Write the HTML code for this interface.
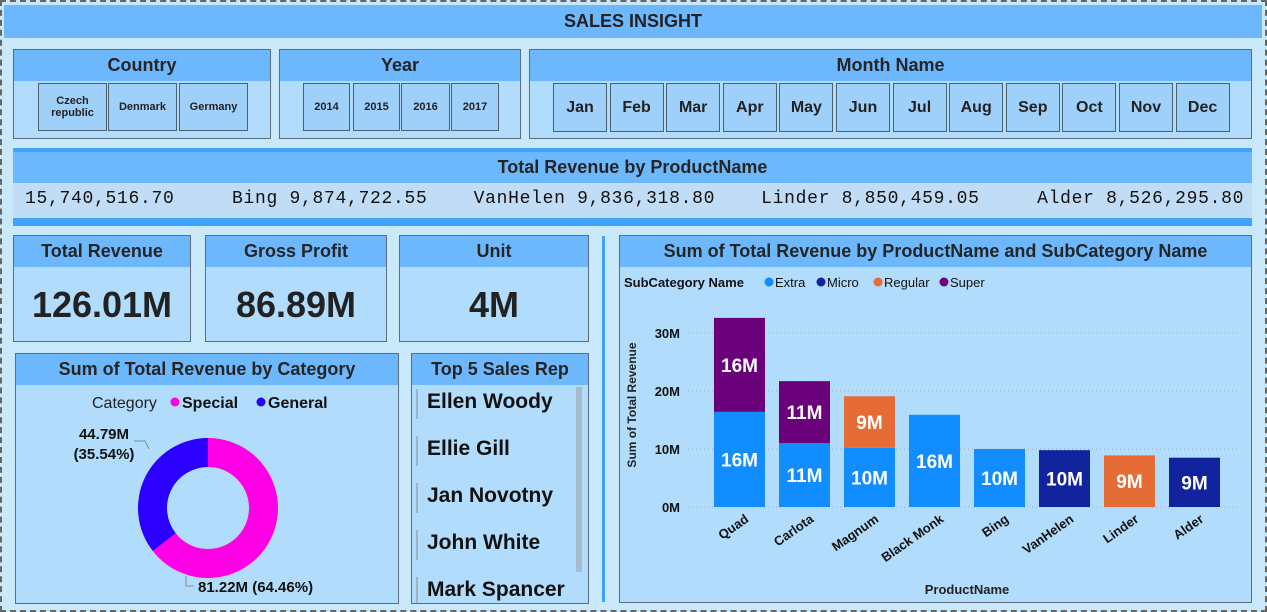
<!DOCTYPE html>
<html><head><meta charset="utf-8"><style>
*{box-sizing:border-box;margin:0;padding:0}
body{width:1267px;height:612px;background:#c9e8fa;font-family:"Liberation Sans",sans-serif;position:relative;overflow:hidden;color:#222}
.abs{position:absolute}
.panel{position:absolute;background:#b2dcfb;border:1px solid #5a6e80}
.hdr{position:absolute;left:0;right:0;top:0;height:31px;background:#6db8fc;text-align:center;font-weight:bold;font-size:18px;line-height:31px;color:#252525}
.btn{position:absolute;background:#9fd0fa;border:1px solid #4d6070;text-align:center;font-size:11px;font-weight:bold;display:flex;align-items:center;justify-content:center;color:#222}
.mbtn{font-size:16px}
.kpi{font-size:36px;font-weight:bold;text-align:center;position:absolute;left:0;right:0;top:48px;color:#222}
.rep{position:absolute;left:15px;font-size:21px;font-weight:bold;color:#111}
.repbar{position:absolute;left:4px;width:2px;height:30px;background:#9db4c4}
</style></head><body>
<div class="abs" style="left:0;top:0;width:1267px;height:612px;border:2px dashed #666"></div>
<div class="abs" style="left:4px;top:5px;width:1258px;height:33px;background:#6db8fc;text-align:center;font-weight:bold;font-size:18px;line-height:33px">SALES INSIGHT</div>

<div class="panel" style="left:13px;top:49px;width:258px;height:90px">
<div class="hdr">Country</div>
<div class="btn" style="left:24px;top:33px;width:69px;height:48px">Czech<br>republic</div>
<div class="btn" style="left:94px;top:33px;width:69px;height:48px">Denmark</div>
<div class="btn" style="left:165px;top:33px;width:69px;height:48px">Germany</div>
</div>

<div class="panel" style="left:279px;top:49px;width:242px;height:90px">
<div class="hdr">Year</div>
<div class="btn" style="left:23px;top:33px;width:47px;height:48px">2014</div>
<div class="btn" style="left:73px;top:33px;width:47px;height:48px">2015</div>
<div class="btn" style="left:121px;top:33px;width:49px;height:48px">2016</div>
<div class="btn" style="left:171px;top:33px;width:48px;height:48px">2017</div>
</div>

<div class="panel" style="left:529px;top:49px;width:723px;height:90px">
<div class="hdr">Month Name</div>
<div id="months"></div>
</div>

<div class="panel" style="left:13px;top:148px;width:1239px;height:78px;border:none;background:#c0ddf5">
<div class="abs" style="left:0;right:0;top:0;height:5px;background:#3fa3fc"></div>
<div class="hdr" style="top:4px">Total Revenue by ProductName</div>
<div class="abs" style="left:12px;top:41px;font-family:'Liberation Mono',monospace;font-size:18px;letter-spacing:0.7px;white-space:pre;color:#111">15,740,516.70     Bing 9,874,722.55    VanHelen 9,836,318.80    Linder 8,850,459.05     Alder 8,526,295.80</div>
<div class="abs" style="left:0;right:0;top:70px;height:8px;background:#3fa3fc"></div>
</div>

<div class="panel" style="left:13px;top:235px;width:178px;height:107px">
<div class="hdr">Total Revenue</div><div class="kpi">126.01M</div></div>
<div class="panel" style="left:205px;top:235px;width:182px;height:107px">
<div class="hdr">Gross Profit</div><div class="kpi">86.89M</div></div>
<div class="panel" style="left:399px;top:235px;width:190px;height:107px">
<div class="hdr">Unit</div><div class="kpi">4M</div></div>

<div class="panel" style="left:15px;top:353px;width:384px;height:251px">
<div class="hdr">Sum of Total Revenue by Category</div>
<svg class="abs" style="left:0;top:0" width="384" height="251" id="donut"></svg>
</div>

<div class="panel" style="left:411px;top:353px;width:178px;height:251px;overflow:hidden">
<div class="hdr">Top 5 Sales Rep</div>
<div class="abs" style="left:164px;top:33px;width:6px;height:185px;background:#a6bccc"></div>
<div class="repbar" style="top:35px"></div><div class="rep" style="top:36px">Ellen Woody</div>
<div class="repbar" style="top:82px"></div><div class="rep" style="top:83px">Ellie Gill</div>
<div class="repbar" style="top:129px"></div><div class="rep" style="top:130px">Jan Novotny</div>
<div class="repbar" style="top:176px"></div><div class="rep" style="top:177px">John White</div>
<div class="repbar" style="top:223px"></div><div class="rep" style="top:224px">Mark Spancer</div>
</div>

<div class="abs" style="left:602px;top:236px;width:3px;height:366px;background:#3fa3fc"></div>

<div class="panel" style="left:619px;top:235px;width:633px;height:368px">
<div class="hdr">Sum of Total Revenue by ProductName and SubCategory Name</div>
</div>
<svg class="abs" style="left:0;top:0" width="1267" height="612" id="bars"></svg>

<script>
var monthNames=["Jan","Feb","Mar","Apr","May","Jun","Jul","Aug","Sep","Oct","Nov","Dec"];
var catNames=["Special","General"];
var catValues=[81.22,44.79];
var products=["Quad","Carlota","Magnum","Black Monk","Bing","VanHelen","Linder","Alder"];
var baseValues=[16.4,11.0,10.2,15.9,10.0,9.8,8.9,8.5];
var baseSubcat=["Extra","Extra","Extra","Extra","Extra","Micro","Regular","Micro"];
var topValues=[16.2,10.7,8.9,0,0,0,0,0];
var topSubcat=["Super","Super","Regular","","","","",""];
var subcats=["Extra","Micro","Regular","Super"];
var yTicks=[0,10,20,30];

var NS="http://www.w3.org/2000/svg";
function mk(p,tag,attrs,txt){var e=document.createElementNS(NS,tag);for(var k in attrs)e.setAttribute(k,attrs[k]);if(txt!=null)e.textContent=txt;p.appendChild(e);return e;}

var mc=document.getElementById("months");
monthNames.forEach(function(m,i){var d=document.createElement("div");d.className="btn mbtn";


d.style.left=(23+i*56.6)+"px";d.style.top="33px";d.style.width="54px";d.style.height="49px";d.textContent=m;mc.appendChild(d);});

// donut
var catColors=["#ff00e6","#2b00ff"];
var dn=document.getElementById("donut");
var lg=mk(dn,"text",{x:76,y:54,"font-size":16,fill:"#222"},"Category");


var lx=155;
catNames.forEach(function(n,i){var c=mk(dn,"circle",{cx:lx+4,cy:48,r:4.5,fill:catColors[i]});


var t=mk(dn,"text",{x:lx+11,y:54,"font-size":16,"font-weight":"bold",fill:"#111"},n);


lx+=86;});
var cx=192,cy=154,R=70,r=41,total=catValues.reduce(function(a,b){return a+b},0),ang=0;
catValues.forEach(function(v,i){var a0=ang,a1=ang+v/total*2*Math.PI;ang=a1;
function pt(rad,a){return [cx+rad*Math.sin(a),cy-rad*Math.cos(a)];}
var p0=pt(R,a0),p1=pt(R,a1),q1=pt(r,a1),q0=pt(r,a0),lf=(a1-a0)>Math.PI?1:0;
var p=mk(dn,"path",{d:"M"+p0+"A"+R+","+R+" 0 "+lf+" 1 "+p1+"L"+q1+"A"+r+","+r+" 0 "+lf+" 0 "+q0+"Z",fill:catColors[i]});

});
var pct=catValues.map(function(v){return (v/total*100).toFixed(2)});
mk(dn,"polyline",{points:"170,222 170,232 178,232",fill:"none",stroke:"#888"});
var l1=mk(dn,"text",{x:182,y:238,"font-size":15,"font-weight":"bold",fill:"#111"},catValues[0].toFixed(2)+"M ("+pct[0]+"%)");


mk(dn,"polyline",{points:"118,87 129,87 133,95",fill:"none",stroke:"#888"});
var l2=mk(dn,"text",{x:88,y:85,"font-size":15,"font-weight":"bold",fill:"#111","text-anchor":"middle"},catValues[1].toFixed(2)+"M");


var l3=mk(dn,"text",{x:88,y:105,"font-size":15,"font-weight":"bold",fill:"#111","text-anchor":"middle"},"("+pct[1]+"%)");



// stacked bars
var subColors={"Extra":"#118dff","Micro":"#12239e","Regular":"#e66c37","Super":"#6b007b"};
var sv=document.getElementById("bars");
var y0=507,yScale=5.8,x0=714,step=65,bw=51;
function Y(v){return y0-v*yScale;}
function X(i){return x0+i*step;}
var lt=mk(sv,"text",{x:624,y:287,"font-size":13,"font-weight":"bold",fill:"#111"},"SubCategory Name");


var lxx=765;var lw={"Extra":52,"Micro":57,"Regular":66,"Super":50};
subcats.forEach(function(s){var c=mk(sv,"circle",{cx:lxx+4,cy:282,r:4.5,fill:subColors[s]});


var t=mk(sv,"text",{x:lxx+10,y:287,"font-size":13,fill:"#111"},s);


lxx+=lw[s];});
yTicks.forEach(function(v){var g=mk(sv,"line",{x1:688,x2:1240,y1:Y(v),y2:Y(v),stroke:"#9ab","stroke-dasharray":"1,3"});


var t=mk(sv,"text",{x:680,y:Y(v)+5,"font-size":13,"font-weight":"bold","text-anchor":"end",fill:"#111"},v+"M");

});
var yt=mk(sv,"text",{x:0,y:0,"font-size":12,"font-weight":"bold",fill:"#222","text-anchor":"middle",transform:"translate(636,405) rotate(-90)"},"Sum of Total Revenue");


var xt=mk(sv,"text",{x:967,y:594,"font-size":13,"font-weight":"bold",fill:"#222","text-anchor":"middle"},"ProductName");


products.forEach(function(p,i){
var x=X(i);
var b=mk(sv,"rect",{x:x,y:Y(baseValues[i]),width:bw,height:baseValues[i]*yScale,fill:subColors[baseSubcat[i]]});


var t=mk(sv,"text",{x:x+bw/2,y:(Y(baseValues[i])+y0)/2+7,"font-size":19,"font-weight":"bold",fill:"#fff","text-anchor":"middle"},Math.round(baseValues[i])+"M");


if(topValues[i]>0){var yb=Y(baseValues[i]+topValues[i]);
var b2=mk(sv,"rect",{x:x,y:yb,width:bw,height:topValues[i]*yScale,fill:subColors[topSubcat[i]]});


var t2=mk(sv,"text",{x:x+bw/2,y:(yb+Y(baseValues[i]))/2+7,"font-size":19,"font-weight":"bold",fill:"#fff","text-anchor":"middle"},Math.round(topValues[i])+"M");

}
var xl=mk(sv,"text",{x:0,y:0,"font-size":13,"font-weight":"bold",fill:"#111","text-anchor":"end",transform:"translate("+(x+bw/2+10)+",521) rotate(-35)"},p);


});
</script>
</body></html>
